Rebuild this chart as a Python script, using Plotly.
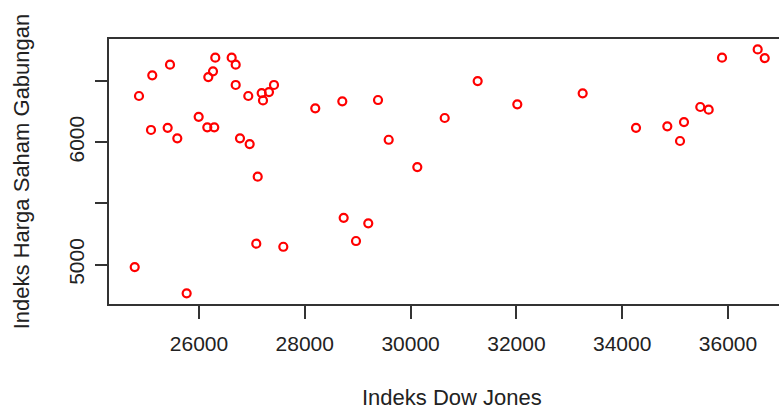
import plotly.graph_objects as go

dow_jones = [
    24866, 25117, 25452, 26308, 26618, 26694, 26265, 26176, 26694, 26932,
    27185, 27323, 27418, 27210, 28198, 28709, 25994, 25093, 25408, 25590,
    26157, 26289, 26775, 26958, 27110, 27083, 27594, 24785, 25767, 28735,
    29384, 31268, 32017, 30645, 29586, 30127, 29200, 28968, 33253, 35887,
    36561, 36694, 35476, 35635, 35168, 34261, 34853, 35093,
]
ihsg = [
    6379, 6548, 6635, 6692, 6692, 6635, 6581, 6534, 6469, 6379,
    6403, 6411, 6469, 6343, 6278, 6335, 6209, 6101, 6119, 6033,
    6123, 6123, 6033, 5986, 5719, 5171, 5146, 4980, 4765, 5383,
    6346, 6501, 6311, 6199, 6021, 5798, 5338, 5193, 6401, 6692,
    6760, 6689, 6289, 6267, 6166, 6119, 6131, 6011,
]

x_tickvals = [26000, 28000, 30000, 32000, 34000, 36000]
x_ticktext = ["26000", "28000", "30000", "32000", "34000", "36000"]
y_tickvals = [5000, 5500, 6000, 6500]
y_ticktext = ["5000", "", "6000", ""]

x_title = "Indeks Dow Jones"
y_title = "Indeks Harga Saham Gabungan"

FONT = "Liberation Sans, Arial, sans-serif"
AXIS_COLOR = "#333333"

fig = go.Figure()
fig.add_trace(go.Scatter(
    x=dow_jones, y=ihsg, mode="markers",
    marker=dict(symbol="circle-open", size=8, color="red",
                line=dict(color="red", width=2.2)),
    showlegend=False, hoverinfo="x+y",
))

fig.update_layout(
    width=779, height=405,
    margin=dict(l=109, r=0, t=39, b=101, pad=0),
    paper_bgcolor="white", plot_bgcolor="white",
    font=dict(family=FONT, size=21, color="#222222"),
    xaxis=dict(
        range=[24299, 36964], showgrid=False, zeroline=False,
        showline=True, linecolor=AXIS_COLOR, linewidth=1.5, mirror=True,
        ticks="outside", ticklen=13, tickwidth=1.5, tickcolor=AXIS_COLOR,
        tickvals=x_tickvals, ticktext=x_ticktext,
        tickfont=dict(size=21), ticklabelstandoff=7,
    ),
    yaxis=dict(
        range=[4678, 6845], showgrid=False, zeroline=False,
        showline=True, linecolor=AXIS_COLOR, linewidth=1.5, mirror=False,
        ticks="outside", ticklen=12, tickwidth=1.5, tickcolor=AXIS_COLOR,
        tickvals=y_tickvals, ticktext=y_ticktext, tickangle=-90,
        tickfont=dict(size=21), ticklabelstandoff=3,
        title=dict(text=y_title, font=dict(size=22), standoff=29),
    ),
    annotations=[dict(
        text=x_title, xref="paper", yref="paper", x=0.512, y=-0.352,
        xanchor="center", yanchor="middle", showarrow=False,
        font=dict(size=22),
    )],
)

fig.write_html("out.html", config={"displayModeBar": False},
               post_script="document.body.style.margin='0';")
